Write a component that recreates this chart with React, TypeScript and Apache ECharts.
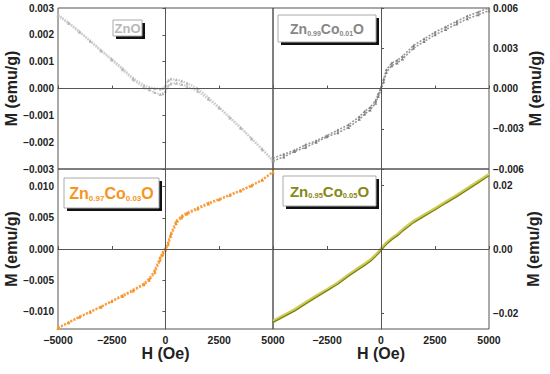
import React, { useEffect, useRef } from "react";
import * as echarts from "echarts";

// Applied field (Oe) at which each branch is sampled
const H_FIELD = [-5000, -4500, -4000, -3500, -3000, -2500, -2000, -1500, -1000, -750, -500, -250, -125, 0, 125, 250, 500, 750, 1000, 1500, 2000, 2500, 3000, 3500, 4000, 4500, 5000];

// ZnO (emu/g)
const ZNO_UPPER = [0.00275, 0.00245, 0.00212, 0.00178, 0.00143, 0.0011, 0.00075, 0.00038, 0.00012, 0.00005, 0.0, -0.00002, 0.0, 0.0001, 0.0003, 0.00035, 0.00033, 0.00028, 0.0002, 0.0, -0.00035, -0.0007, -0.00108, -0.00145, -0.00185, -0.00225, -0.00268];
const ZNO_LOWER = [0.00272, 0.00242, 0.0021, 0.00176, 0.0014, 0.00106, 0.0007, 0.00033, 0.00003, -0.00005, -0.00015, -0.00022, -0.0002, -0.0001, 0.0001, 0.00018, 0.0002, 0.00015, 0.00008, -0.0001, -0.0004, -0.00073, -0.0011, -0.00148, -0.00188, -0.00228, -0.0027];

// Zn0.99Co0.01O
const CO1_A = [-0.0054, -0.0051, -0.0047, -0.0044, -0.004, -0.0036, -0.0033, -0.0029, -0.0023, -0.0019, -0.0016, -0.0011, -0.0006, -0.0001, 0.0005, 0.0012, 0.0017, 0.0019, 0.0022, 0.003, 0.0035, 0.004, 0.0044, 0.0048, 0.0052, 0.0055, 0.0058];
const CO1_B = [-0.0052, -0.0049, -0.0046, -0.0042, -0.0039, -0.0035, -0.0031, -0.0027, -0.0021, -0.0017, -0.0014, -0.0009, -0.0004, 0.0001, 0.0007, 0.0014, 0.0019, 0.0021, 0.0024, 0.0032, 0.0037, 0.0042, 0.0046, 0.005, 0.0054, 0.0057, 0.006];

// Zn0.97Co0.03O
const CO3_A = [-0.0127, -0.0118, -0.0109, -0.0101, -0.0093, -0.0084, -0.0076, -0.0067, -0.0057, -0.005, -0.0038, -0.0018, -0.0009, -0.0002, 0.0007, 0.0021, 0.0041, 0.005, 0.0056, 0.0064, 0.0072, 0.0079, 0.0086, 0.0093, 0.0101, 0.011, 0.0123];
const CO3_B = [-0.0126, -0.0117, -0.0108, -0.01, -0.0092, -0.0083, -0.0074, -0.0065, -0.0055, -0.0047, -0.0034, -0.0013, -0.0005, 0.0002, 0.0011, 0.0025, 0.0045, 0.0053, 0.0058, 0.0066, 0.0074, 0.008, 0.0087, 0.0094, 0.0102, 0.0111, 0.0124];

// Zn0.95Co0.05O
const CO5_A = [-0.0228, -0.021, -0.0192, -0.017, -0.0149, -0.0129, -0.0108, -0.0083, -0.006, -0.0049, -0.0037, -0.0021, -0.0012, -0.0003, 0.0008, 0.0017, 0.0031, 0.0043, 0.0058, 0.0084, 0.0104, 0.0124, 0.0145, 0.0165, 0.0187, 0.0209, 0.0231];
const CO5_B = [-0.0224, -0.0206, -0.0188, -0.0166, -0.0145, -0.0125, -0.0104, -0.0079, -0.0056, -0.0045, -0.0033, -0.0017, -0.0008, 0.0003, 0.0012, 0.0021, 0.0035, 0.0047, 0.0062, 0.0088, 0.0108, 0.0128, 0.0149, 0.0169, 0.0191, 0.0213, 0.0235];

// Tick labels
const X_TICKS = [-5000, -2500, 0, 2500, 5000];
const Y_TICKS_ZNO = [-0.003, -0.002, -0.001, 0, 0.001, 0.002, 0.003];
const Y_TICKS_CO1 = [-0.006, -0.003, 0, 0.003, 0.006];
const Y_TICKS_CO3 = [-0.01, -0.005, 0, 0.005, 0.01];
const Y_TICKS_CO5 = [-0.02, 0, 0.02];

const FONT = "'Liberation Sans', Arial, Helvetica, sans-serif";
const AXIS_COLOR = "#555";

const pair = (ys: number[]) => H_FIELD.map((h, i) => [h, ys[i]]);
const fmt = (d: number) => (v: number) => (v < -1e-12 ? "\u2212" : "") + Math.abs(v).toFixed(d);

export default function App() {
  const ref = useRef<HTMLDivElement>(null);
  useEffect(() => {
    if (!ref.current) return;
    const chart = echarts.init(ref.current, null, { renderer: "svg" });

    const grids = [
      { left: 58, top: 8, width: 215, height: 161 },
      { left: 273, top: 8, width: 216, height: 161 },
      { left: 58, top: 169, width: 215, height: 160 },
      { left: 273, top: 169, width: 216, height: 160 },
    ].map((g) => ({ ...g, show: true, borderColor: AXIS_COLOR, borderWidth: 1, backgroundColor: "transparent", containLabel: false }));

    const labelStyle = { fontFamily: FONT, fontWeight: "bold" as const, fontSize: 10.5, color: "#222" };
    const nameStyle = { fontFamily: FONT, fontWeight: "bold" as const, fontSize: 16, color: "#222" };

    const xAxis = [0, 1, 2, 3].map((i) => ({
      type: "value" as const,
      gridIndex: i,
      min: -5000,
      max: 5000,
      interval: 2500,
      axisLine: { show: true, lineStyle: { color: AXIS_COLOR } },
      axisTick: { show: true, inside: true, length: 3, lineStyle: { color: AXIS_COLOR }, customValues: X_TICKS },
      splitLine: { show: false },
      axisLabel: {
        show: i >= 2,
        ...labelStyle,
        margin: 5,
        customValues: i === 3 ? X_TICKS.slice(1) : X_TICKS,
        formatter: (v: number) => (v < 0 ? "\u2212" : "") + Math.abs(v),
      },
      name: i >= 2 ? "H (Oe)" : "",
      nameLocation: "middle" as const,
      nameGap: 15,
      nameTextStyle: nameStyle,
    }));

    const yDefs = [
      { min: -0.003, max: 0.003, ticks: Y_TICKS_ZNO, d: 3, pos: "left" },
      { min: -0.006, max: 0.006, ticks: Y_TICKS_CO1, d: 3, pos: "right" },
      { min: -0.0128, max: 0.0128, ticks: Y_TICKS_CO3, d: 3, pos: "left" },
      { min: -0.025, max: 0.025, ticks: Y_TICKS_CO5, d: 2, pos: "right" },
    ];
    const yAxis = yDefs.map((y, i) => ({
      type: "value" as const,
      gridIndex: i,
      min: y.min,
      max: y.max,
      position: y.pos as "left" | "right",
      axisLine: { show: true, lineStyle: { color: AXIS_COLOR } },
      axisTick: { show: true, length: 3, lineStyle: { color: AXIS_COLOR }, customValues: y.ticks },
      splitLine: { show: false },
      axisLabel: { ...labelStyle, fontSize: 10, margin: 4, customValues: y.ticks, formatter: fmt(y.d) },
      name: "M (emu/g)",
      nameLocation: "middle" as const,
      nameGap: y.pos === "left" ? 28 : 36,
      nameTextStyle: nameStyle,
    }));

    const zeroLines = {
      silent: true,
      symbol: ["none", "none"],
      label: { show: false },
      lineStyle: { color: AXIS_COLOR, width: 1, type: "solid" as const },
      data: [{ xAxis: 0 }, { yAxis: 0 }],
    };

    const mk = (idx: number, ys: number[], color: string, opts: any = {}, withZero = false) => ({
      type: "line" as const,
      xAxisIndex: idx,
      yAxisIndex: idx,
      data: pair(ys),
      symbol: opts.symbol ?? "triangle",
      symbolSize: opts.symbolSize ?? 3,
      showSymbol: opts.showSymbol ?? true,
      itemStyle: { color: opts.symbolColor ?? color, borderWidth: 0 },
      lineStyle: { color, width: opts.width ?? 2, type: opts.type ?? [2, 1.5] },
      z: 3,
      ...(withZero ? { markLine: zeroLines } : {}),
    });

    const series = [
      mk(0, ZNO_UPPER, "#cdcdcd", { symbolColor: "#b8b8b8", width: 2.2, type: [1.5, 1.2] }, true),
      mk(0, ZNO_LOWER, "#cdcdcd", { symbolColor: "#b8b8b8", width: 2.2, type: [1.5, 1.2] }),
      mk(1, CO1_A, "#999", { symbolColor: "#808080", width: 1.6, type: [2, 1.5] }, true),
      mk(1, CO1_B, "#999", { symbolColor: "#808080", width: 1.6, type: [2, 1.5] }),
      mk(2, CO3_A, "#f9a04a", { symbolColor: "#f7941d", width: 2, type: [2, 1.5] }, true),
      mk(2, CO3_B, "#f9a04a", { symbolColor: "#f7941d", width: 2, type: [2, 1.5] }),
      mk(3, CO5_A, "#7f7f12", { showSymbol: false, width: 2.4, type: "solid" }, true),
      mk(3, CO5_B, "#cccc55", { showSymbol: false, width: 2, type: "solid" }),
    ];

    const box = (x: number, y: number, w: number, h: number, text: string, color: string, main: number, sub: number) => ({
      type: "group",
      x,
      y,
      z: 10,
      children: [
        { type: "rect", shape: { x: 3, y: 3, width: w, height: h }, style: { fill: "#111" } },
        { type: "rect", shape: { x: 0, y: 0, width: w, height: h }, style: { fill: "#fff", stroke: "#aaa", lineWidth: 1 } },
        {
          type: "text",
          x: w / 2,
          y: h / 2,
          style: {
            text,
            align: "center",
            verticalAlign: "middle",
            rich: {
              m: { fontFamily: FONT, fontWeight: "bold", fontSize: main, lineHeight: main + 2, fill: color, verticalAlign: "middle" },
              s: { fontFamily: FONT, fontWeight: "bold", fontSize: sub, lineHeight: sub, fill: color, verticalAlign: "bottom" },
            },
          },
        },
      ],
    });

    chart.setOption({
      animation: false,
      backgroundColor: "#fff",
      grid: grids,
      xAxis,
      yAxis,
      series,
      graphic: [
        box(113, 20, 29, 16, "{m|ZnO}", "#b8b8b8", 13, 7),
        box(278, 15, 98, 27, "{m|Zn}{s|0.99}{m|Co}{s|0.01}{m|O}", "#878787", 14, 7),
        box(64, 178, 95, 30, "{m|Zn}{s|0.97}{m|Co}{s|0.03}{m|O}", "#f7941d", 16, 8),
        box(283, 176, 93, 30, "{m|Zn}{s|0.95}{m|Co}{s|0.05}{m|O}", "#878716", 15, 7.5),
      ],
    });
    return () => chart.dispose();
  }, []);
  return <div ref={ref} style={{ position: "fixed", left: 0, top: 0, width: 550, height: 374 }} />;
}
